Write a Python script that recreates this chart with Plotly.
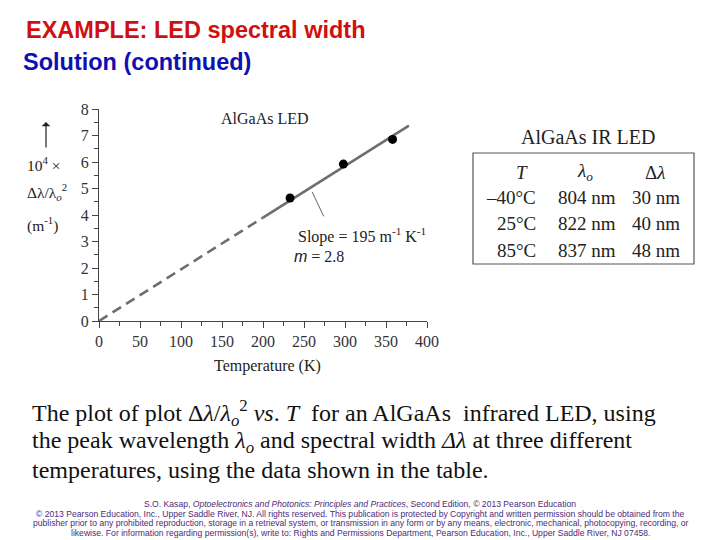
import plotly.graph_objects as go

# ---- data ----
temps_C = [-40, 25, 85]
peak_nm = [804, 822, 837]
width_nm = [30, 40, 48]
temps_K = [t + 273 for t in temps_C]
# Δλ/λo² in units of 1e4 m^-1
ratio = [(w * 1e-9) / (l * 1e-9) ** 2 / 1e4 for w, l in zip(width_nm, peak_nm)]

slope = 195  # m^-1 K^-1
line_dash_T = [0, 200]
line_solid_T = [200, 378]
x_ticks = [0, 50, 100, 150, 200, 250, 300, 350, 400]
y_ticks = [0, 1, 2, 3, 4, 5, 6, 7, 8]

table_T = ["\u201340\u00b0C", "25\u00b0C", "85\u00b0C"]
table_l = [f"{v} nm" for v in peak_nm]
table_d = [f"{v} nm" for v in width_nm]

# ---- layout geometry (reference pixels, page has 8px body margin) ----
OFF = 8
W, H = 720 - OFF, 540 - OFF
L, R, T, B = 99, 427, 109, 321


def px(x):
    return (x - L) / (R - L)


def py(y):
    return (B - y) / (B - T)


serif = "Liberation Serif, Times New Roman, serif"
sans = "Liberation Sans, Arial, sans-serif"
gray = "#6e6e6e"

fig = go.Figure()
fig.add_trace(go.Scatter(x=line_dash_T, y=[slope * t / 1e4 for t in line_dash_T],
                         mode="lines", line=dict(color=gray, width=2.6, dash="10px,6px"),
                         showlegend=False, hoverinfo="skip"))
fig.add_trace(go.Scatter(x=line_solid_T, y=[slope * t / 1e4 for t in line_solid_T],
                         mode="lines", line=dict(color=gray, width=2.6),
                         showlegend=False, hoverinfo="skip"))
fig.add_trace(go.Scatter(x=temps_K, y=ratio, mode="markers",
                         marker=dict(color="black", size=9), showlegend=False))

axis_common = dict(showgrid=False, zeroline=False, showline=True, linecolor="#444",
                   linewidth=1, ticks="outside", ticklen=6, tickcolor="#444",
                   tickfont=dict(family=serif, size=16, color="#333"))
fig.update_xaxes(range=[0, 400], tickvals=x_ticks, ticktext=[str(v) for v in x_ticks],
                 minor=dict(dtick=25, ticks="outside", ticklen=4, tickcolor="#444"),
                 **axis_common)
fig.update_yaxes(range=[0, 8], tickvals=y_ticks, ticktext=[str(v) for v in y_ticks],
                 minor=dict(dtick=0.5, ticks="outside", ticklen=4, tickcolor="#444"),
                 **axis_common)

ann = []


def text(x, y, s, size, color="#222", family=serif, xanchor="center", yanchor="middle"):
    ann.append(dict(x=px(x), y=py(y), xref="paper", yref="paper", text=s, showarrow=False,
                    font=dict(family=family, size=size, color=color),
                    xanchor=xanchor, yanchor=yanchor))


# titles
text(24, 30, "<b>EXAMPLE: LED spectral width</b>", 23.5, "#d01010", sans, "left")
text(21, 62, "<b>Solution (continued)</b>", 23.5, "#1010b0", sans, "left")

# plot labels
text(265, 118, "AlGaAs LED", 16)
text(296, 235, "Slope = 195 m<sup>-1</sup> K<sup>-1</sup>", 16, xanchor="left")
text(292, 256, "<i><span style='font-family:Liberation Sans'>m</span></i> = 2.8", 16, xanchor="left")
text(267, 366, "Temperature (K)", 16)
# upward arrow of the y label
ann.append(dict(x=px(46), y=py(122), xref="paper", yref="paper",
                axref="pixel", ayref="pixel", ax=0, ay=27, text="", showarrow=True,
                arrowhead=1, arrowsize=1.2, arrowwidth=1.2, arrowcolor="#222"))
text(44, 164, "10<sup>4</sup> \u00d7", 15.5)
text(47, 192, "\u0394\u03bb/\u03bb<sub><i>o</i></sub><sup>2</sup>", 15.5)
text(42, 224, "(m<sup>-1</sup>)", 15.5)

# table
text(588, 137, "AlGaAs IR LED", 20)
text(522, 172, "<i>T</i>", 19)
text(585, 172, "<i>\u03bb<sub>o</sub></i>", 19)
text(655, 172, "\u0394<i>\u03bb</i>", 19)
row_y = [197, 223, 250]
for i, yy in enumerate(row_y):
    text(538, yy, table_T[i], 19, xanchor="right")
    text(587, yy, table_l[i], 19)
    text(656, yy, table_d[i], 19)

# paragraph
para = ["The plot of plot \u0394<i>\u03bb</i>/<i>\u03bb<sub>o</sub></i><sup>2</sup> <i>vs</i>. <i>T</i>  for an AlGaAs  infrared LED, using",
        "the peak wavelength <i>\u03bb<sub>o</sub></i> and spectral width <i>\u0394\u03bb</i> at three different",
        "temperatures, using the data shown in the table."]
for i, s in enumerate(para):
    text(30, 413 + i * 28.5, s, 24, "#111", xanchor="left")

# footer
foot = ["S.O. Kasap, <i>Optoelectronics and Photonics: Principles and Practices</i>, Second Edition, \u00a9 2013 Pearson Education",
        "\u00a9 2013 Pearson Education, Inc., Upper Saddle River, NJ. All rights reserved. This publication is protected by Copyright and written permission should be obtained from the",
        "publisher prior to any prohibited reproduction, storage in a retrieval system, or transmission in any form or by any means, electronic, mechanical, photocopying, recording, or",
        "likewise. For information regarding permission(s), write to: Rights and Permissions Department, Pearson Education, Inc., Upper Saddle River, NJ 07458."]
for i, s in enumerate(foot):
    text(360, 504 + i * 9.6, s, 8.6, "#4a2c7a", sans)

fig.update_layout(annotations=ann)

shapes = [
    dict(type="rect", xref="paper", yref="paper", x0=px(473), x1=px(694), y0=py(153), y1=py(264),
         line=dict(color="#555", width=1.2)),
    dict(type="line", xref="x", yref="y", x0=260, y0=4.87, x1=274, y1=3.95,
         line=dict(color="#666", width=1)),
]
fig.update_layout(shapes=shapes)

fig.update_layout(width=W, height=H,
                  margin=dict(l=L - OFF, r=W - (R - OFF), t=T - OFF, b=H - (B - OFF)),
                  paper_bgcolor="white", plot_bgcolor="white", showlegend=False)

fig.write_html("out.html")
